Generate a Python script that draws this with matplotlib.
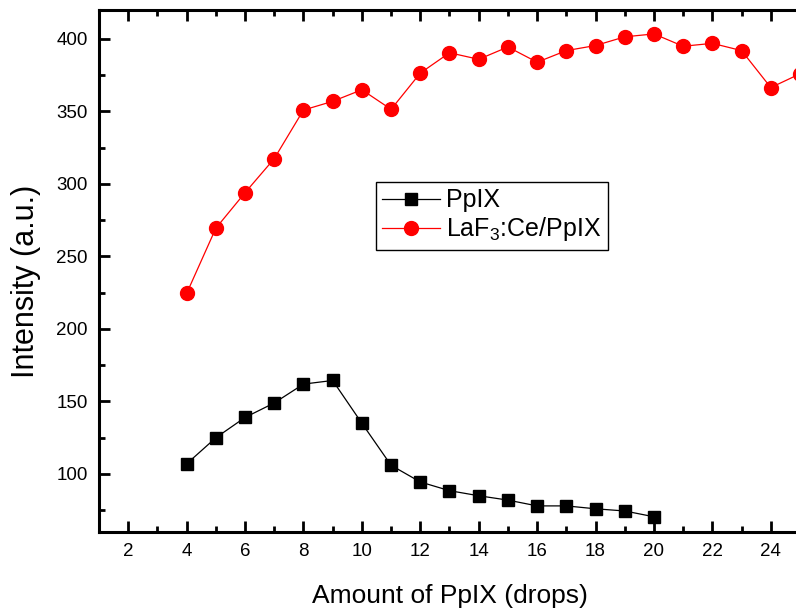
import matplotlib
matplotlib.use('Agg')
import matplotlib.pyplot as plt
from matplotlib.ticker import MultipleLocator

plt.rcParams['font.family'] = ['Liberation Sans', 'DejaVu Sans']

# drops of PpIX
drops_ppix = [4, 5, 6, 7, 8, 9, 10, 11, 12, 13, 14, 15, 16, 17, 18, 19, 20]
ppix = [107, 125, 139, 149, 162, 164.5, 135, 106, 94.5, 88.5, 85, 82, 78, 78, 76, 74.5, 70.5]

drops_laf = [4, 5, 6, 7, 8, 9, 10, 11, 12, 13, 14, 15, 16, 17, 18, 19, 20,
             21, 22, 23, 24, 25]
laf = [224.5, 269.5, 294, 317.5, 351, 357, 365, 351.5, 376.5, 390.5, 386, 394.5,
       384, 392, 395.5, 401.5, 403.5, 395, 397, 392, 366.5, 376]

xticks = [2, 4, 6, 8, 10, 12, 14, 16, 18, 20, 22, 24]
yticks = [100, 150, 200, 250, 300, 350, 400]

fig = plt.figure(figsize=(7.96, 6.11), dpi=100)
ax = fig.add_axes([99 / 796, 79 / 611, 701 / 796, 522 / 611])

ax.plot(drops_ppix, ppix, color='black', lw=0.9, marker='s', ms=8, label='PpIX',
        clip_on=False)
ax.plot(drops_laf, laf, color='red', lw=0.9, marker='o', ms=10,
        label=r'LaF$_\mathregular{3}$:Ce/PpIX', clip_on=False)

ax.set_xlim(1, 25)
ax.set_ylim(60, 420)
ax.set_xticks(xticks)
ax.xaxis.set_minor_locator(MultipleLocator(1))
ax.set_yticks(yticks)
ax.yaxis.set_minor_locator(MultipleLocator(25))

for s in ax.spines.values():
    s.set_linewidth(2.2)
ax.tick_params(which='both', direction='in', top=True, right=False, width=2)
ax.tick_params(which='major', length=8, labelsize=13.5, pad=8)
ax.tick_params(which='minor', length=4)

ax.set_xlabel('Amount of PpIX (drops)', fontsize=19, labelpad=17)
ax.set_ylabel('Intensity (a.u.)', fontsize=22)
ax.yaxis.set_label_coords(-0.083, 0.48)

leg = ax.legend(loc='upper left', bbox_to_anchor=(376 / 796, 1 - 182 / 611),
                bbox_transform=fig.transFigure, borderaxespad=0, fontsize=18,
                fancybox=False, edgecolor='black', framealpha=1,
                handlelength=2.3, borderpad=0.25, labelspacing=0.12, handletextpad=0.25)
leg.get_frame().set_linewidth(1)

fig.savefig('out.png', dpi=100)
